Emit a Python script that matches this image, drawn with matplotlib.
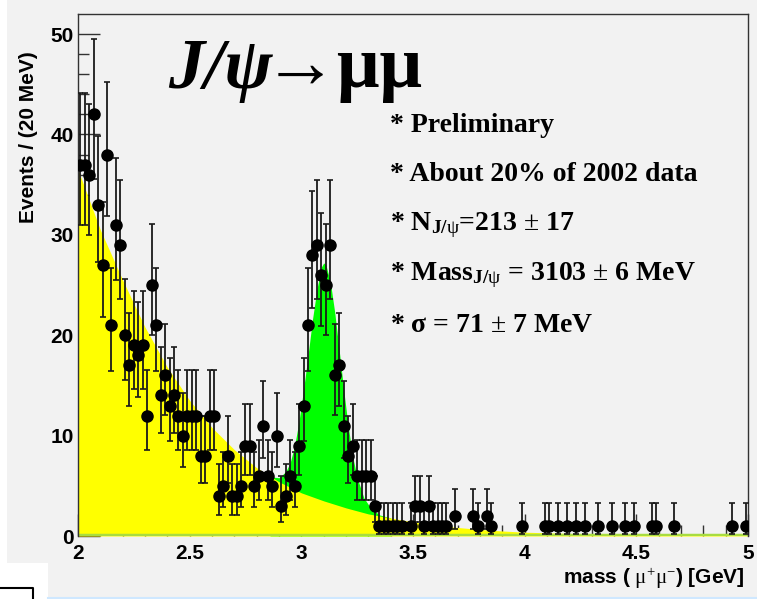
import numpy as np
import matplotlib
matplotlib.use('Agg')
import matplotlib.pyplot as plt
from matplotlib.patches import Rectangle
from matplotlib.lines import Line2D

matplotlib.rcParams['mathtext.fontset'] = 'custom'
matplotlib.rcParams['mathtext.rm'] = 'Liberation Serif'
matplotlib.rcParams['mathtext.bf'] = 'Liberation Serif:bold'
matplotlib.rcParams['mathtext.it'] = 'Liberation Serif:italic'

# histogram: 150 bins of 20 MeV from 2 to 5 GeV
mass_lo, mass_hi, bin_w = 2.0, 5.0, 0.02
counts = [37, 37, 36, 42, 33, 27, 38, 21, 31, 29,
          20, 17, 19, 18, 19, 12, 25, 21, 14, 16,
          13, 14, 12, 10, 12, 12, 12, 8, 8, 12,
          12, 4, 5, 8, 4, 4, 5, 9, 9, 5,
          6, 11, 6, 5, 10, 3, 4, 6, 5, 9,
          13, 21, 28, 29, 26, 25, 29, 16, 17, 11,
          8, 9, 6, 6, 6, 6, 3, 1, 1, 1,
          1, 1, 1, 0, 1, 3, 3, 1, 3, 1,
          1, 1, 1, 0, 2, 0, 0, 0, 2, 1,
          0, 2, 1, 0, 0, 0, 0, 0, 0, 1,
          0, 0, 0, 0, 1, 1, 0, 1, 0, 1,
          0, 1, 0, 1, 0, 0, 1, 0, 0, 1,
          0, 0, 1, 0, 1, 0, 0, 0, 1, 1,
          0, 0, 0, 1, 0, 0, 0, 0, 0, 0,
          0, 0, 0, 0, 0, 0, 1, 0, 0, 1]

# background fit (yellow)
bg_mass = [2.00, 2.10, 2.20, 2.30, 2.40, 2.50, 2.60, 2.70, 2.80, 2.90,
           3.00, 3.10, 3.20, 3.30, 3.40, 3.50, 3.60, 3.70, 3.80, 3.90,
           4.00, 4.20, 4.40, 4.60, 4.80, 5.00]
bg_level = [36.5, 30.5, 25.5, 20.8, 16.8, 13.5, 10.8, 8.6, 6.8, 5.4,
            4.3, 3.5, 2.8, 2.2, 1.8, 1.4, 1.1, 0.85, 0.65, 0.5,
            0.38, 0.25, 0.16, 0.1, 0.06, 0.04]

# signal + background fit (green)
fit_mass = [2.86, 2.90, 2.93, 2.95, 2.97, 2.99, 3.01, 3.03, 3.05, 3.07,
            3.09, 3.10, 3.11, 3.13, 3.15, 3.17, 3.19, 3.21, 3.23, 3.25,
            3.28, 3.31, 3.35, 3.40]
fit_level = [5.9, 5.8, 6.4, 7.3, 9.0, 11.5, 14.6, 18.0, 21.6, 24.6,
             26.8, 27.2, 27.0, 25.3, 22.2, 18.4, 14.5, 10.9, 7.9, 5.8,
             3.8, 2.8, 2.1, 1.8]

n = np.array(counts, dtype=float)
mass = mass_lo + bin_w * (np.arange(len(counts)) + 0.5)
has = n > 0
nn = n[has]
err_up = np.sqrt(nn + 0.75) + 1.0
err_lo = nn - nn * (1 - 1 / (9 * nn) - 1 / (3 * np.sqrt(nn))) ** 3

W, H = 757, 599
fig = plt.figure(figsize=(W / 100, H / 100), dpi=100, facecolor='#f2f2f2')
# white margins of the screenshot
fig.patches.append(Rectangle((0, 0), 7 / W, 1, transform=fig.transFigure,
                             facecolor='white', edgecolor='none', zorder=0))
fig.patches.append(Rectangle((0, 0), 48 / W, (H - 563) / H, transform=fig.transFigure,
                             facecolor='white', edgecolor='none', zorder=0))
fig.lines.append(Line2D([0, 33 / W, 33 / W], [(H - 588) / H, (H - 588) / H, 0],
                        transform=fig.transFigure, color='black', lw=1.5))
fig.lines.append(Line2D([48 / W, 1], [(H - 597.5) / H] * 2,
                        transform=fig.transFigure, color='#cfe8ff', lw=1.5))

ax = fig.add_axes([78 / W, (H - 536) / H, 670 / W, 522 / H])
ax.set_facecolor('#f2f2f2')
ax.set_axisbelow(True)

ax.fill_between(fit_mass, fit_level, color='#00ff00', lw=0, zorder=1)
ax.fill_between(bg_mass, bg_level, color='#ffff00', lw=0, zorder=2)
ax.plot([2, 2], [0, bg_level[0]], color='#a0c830', lw=1.2, zorder=2.2)
ax.plot([2, 5], [0.05, 0.05], color='#a8dc40', lw=2.5, zorder=2.2, solid_capstyle='butt')

ax.errorbar(mass[has], nn, yerr=[err_lo, err_up], fmt='o', color='black',
            ms=8, elinewidth=1.3, capsize=2.5, capthick=1.2, ecolor='#1a1a1a', zorder=3)

ax.set_xlim(2, 5)
ax.set_ylim(0, 52)
ax.set_xticks([2, 2.5, 3, 3.5, 4, 4.5, 5])
ax.set_xticklabels(['2', '2.5', '3', '3.5', '4', '4.5', '5'])
ax.set_xticks(np.arange(2, 5.01, 0.1), minor=True)
ax.set_yticks([0, 10, 20, 30, 40, 50])
ax.set_yticks(np.arange(0, 52, 2), minor=True)
ax.tick_params(which='both', direction='in', top=False, right=False, color='#333333')
ax.tick_params(which='major', length=16, width=1)
ax.tick_params(which='minor', length=8, width=1)
ax.tick_params(axis='x', pad=6)
ax.tick_params(axis='y', pad=3)
for lab in ax.get_xticklabels() + ax.get_yticklabels():
    lab.set_fontfamily('Liberation Sans')
    lab.set_fontweight('bold')
    lab.set_fontsize(15)
for s in ax.spines.values():
    s.set_color('#333333')
    s.set_linewidth(1)
ax.spines['bottom'].set_visible(False)

fig.text(29 / W, 1 - 137 / H, 'Events / (20 MeV)', rotation=90, ha='center', va='center',
         family='Liberation Sans', weight='bold', fontsize=15)
fig.text(745 / W, 1 - 578 / H, r'mass ( $\mathrm{\mu}^{+}\mathrm{\mu}^{-}$) [GeV]', ha='right',
         va='center', family='Liberation Sans', weight='bold', fontsize=15)

t1 = fig.text(168 / W, 1 - 88 / H, 'J/ψ', ha='left', va='baseline',
              family='Liberation Serif', weight='bold', style='italic', fontsize=52)
ax.annotate('→μμ', xy=(1, 0), xycoords=t1, xytext=(-7, 0), textcoords='offset points',
            ha='left', va='bottom', family='Liberation Serif', weight='bold', fontsize=54)

lines = ['* Preliminary',
         '* About 20% of 2002 data',
         r'* N$_{\mathbf{J/}\mathrm{\psi}}$=213 $\pm$ 17',
         r'* Mass$_{\mathbf{J/}\mathrm{\psi}}$ = 3103 $\pm$ 6 MeV',
         r'* σ = 71 $\pm$ 7 MeV']
for i, s in enumerate(lines):
    fig.text(390 / W, 1 - (125 + 50 * i) / H, s, ha='left', va='center',
             family='Liberation Serif', weight='bold', fontsize=20)

fig.savefig('out.png', dpi=100, facecolor=fig.get_facecolor())
